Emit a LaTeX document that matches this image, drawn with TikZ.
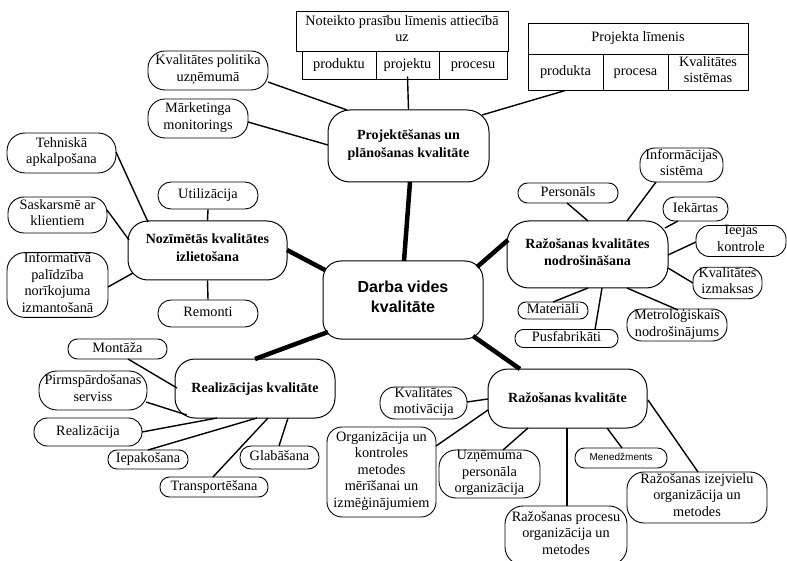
\documentclass[tikz,border=0pt]{standalone}
\usepackage{fontspec}
\setmainfont{Liberation Serif}
\newfontfamily\sansf{Liberation Sans}
\usetikzlibrary{calc}
\tikzset{
  every node/.style={inner sep=0pt, align=center, font=\fontsize{14.3}{16.6}\selectfont,
    execute at begin node=\strut, execute at end node=\strut},
  leaf/.style n args={3}{draw, line width=0.9pt, rounded corners=#3pt, minimum width=#1pt, minimum height=#2pt},
  hub/.style n args={2}{draw, line width=1pt, rounded corners=20pt, minimum width=#1pt, minimum height=#2pt,
    font=\fontsize{14}{17.5}\selectfont\bfseries},
  cell/.style n args={2}{draw, line width=0.9pt, minimum width=#1pt, minimum height=#2pt},
  link/.style={line width=1.4pt},
  trunk/.style={line width=4.5pt},
}
\begin{document}
\begin{tikzpicture}[x=1pt,y=-1pt]
\useasboundingbox (0,0) rectangle (787,561);

% --- tables at the top
\node[cell={212}{40}] (t1h) at (402,31) {Noteikto prasību līmenis attiecībā\\uz};
\node[cell={74}{28}] (t1a) at (339,65) {produktu};
\node[cell={63}{28}] (t1b) at (407.5,65) {projektu};
\node[cell={68}{28}] (t1c) at (473,65) {procesu};

\node[cell={220}{31}] (t2h) at (638,38.5) {Projekta līmenis};
\node[cell={75}{36}] (t2a) at (565.5,72) {produkta};
\node[cell={65}{36}] (t2b) at (635.5,72) {procesa};
\node[cell={80}{36}] (t2c) at (708,72) {Kvalitātes\\sistēmas};

% --- main groups
\node[hub={161}{72}, rounded corners=22pt] (P) at (408.5,146) {Projektēšanas un\\plānošanas kvalitāte};
\node[hub={160}{78}, rounded corners=18pt, font=\sansf\bfseries\fontsize{16}{20}\selectfont] (D) at (403,300) {Darba vides\\kvalitāte};
\node[hub={159}{59}] (N) at (207.5,250.5) {Nozīmētās kvalitātes\\izlietošana};
\node[hub={161}{67}, rounded corners=22pt] (R) at (587.5,254.5) {Ražošanas kvalitātes\\nodrošināšana};
\node[hub={160}{59}] (Q) at (255,388.5) {Realizācijas kvalitāte};
\node[hub={159}{59}] (K) at (567.5,398.5) {Ražošanas kvalitāte};

% --- leaves of the planning group
\node[leaf={120}{39}{17}] (kp) at (208,70.5) {Kvalitātes politika\\uzņēmumā};
\node[leaf={100}{39}{17}] (mm) at (198,118.5) {Mārketinga\\monitorings};

% --- leaves of the usage group
\node[leaf={109}{40}{18}] (ta) at (61.5,153) {Tehniskā\\apkalpošana};
\node[leaf={99}{36}{16}] (sk) at (57.5,215) {Saskarsmē ar\\klientiem};
\node[leaf={101}{64}{18}] (ip) at (57.5,285) {Informatīvā\\palīdzība\\norīkojuma\\izmantošanā};
\node[leaf={100}{27}{13}] (ut) at (208,195.5) {Utilizācija};
\node[leaf={100}{27}{13}] (re) at (208,313.5) {Remonti};

% --- leaves of the production assurance group
\node[leaf={100}{20}{9.5}] (pe) at (568,193) {Personāls};
\node[leaf={83}{34}{15}] (is) at (681.5,165) {Informācijas\\sistēma};
\node[leaf={65}{24}{11.5}] (ie) at (695.5,209) {Iekārtas};
\node[leaf={90}{28}{13.5}] (ik) at (741,241) {Ieejas\\kontrole};
\node[leaf={69}{28}{13.5}] (km) at (727.5,283) {Kvalitātes\\izmaksas};
\node[leaf={70}{17}{8}] (ma) at (553,310.5) {Materiāli};
\node[leaf={103}{18}{8.5}] (pu) at (566.5,338.5) {Pusfabrikāti};
\node[leaf={100}{30}{14.5}] (me) at (677,325) {Metroloģiskais\\nodrošinājums};

% --- leaves of the sales group
\node[leaf={99}{20}{9.5}] (mo) at (117.5,349) {Montāža};
\node[leaf={108}{39}{18}] (ps) at (93,390.5) {Pirmspārdošanas\\serviss};
\node[leaf={108}{28}{13.5}] (rl) at (88,432) {Realizācija};
\node[leaf={80}{19}{9}] (ia) at (148,459.5) {Iepakošana};
\node[leaf={79}{23}{11}] (gl) at (279.5,457.5) {Glabāšana};
\node[leaf={108}{20}{9.5}] (tr) at (214,487) {Transportēšana};

% --- leaves of the production group
\node[leaf={87}{32}{15}] (mv) at (423.5,403) {Kvalitātes\\motivācija};
\node[leaf={109}{90}{15}] (ok) at (381.5,472) {Organizācija un\\kontroles\\metodes\\mērīšanai un\\izmēģinājumiem};
\node[leaf={101}{48}{17}] (up) at (489.5,474) {Uzņēmuma\\personāla\\organizācija};
\node[leaf={122}{59}{18}] (rp) at (566,535.5) {Ražošanas procesu\\organizācija un\\metodes};
\node[leaf={92}{20}{9.5}, font=\sansf\fontsize{10}{12}\selectfont] (mn) at (621,458) {Menedžments};
\node[leaf={140}{51}{17}] (ri) at (697,497.5) {Ražošanas izejvielu\\organizācija un\\metodes};

% --- trunks from the centre
\draw[trunk] ($(P)+(1.5,36)$) -- ($(D)+(1,-39)$);
\draw[trunk] ($(N)+(79.5,-0.5)$) -- ($(D)+(-78,-30)$);
\draw[trunk] ($(D)+(74,-33)$) -- ($(R)+(-79.5,-14.5)$);
\draw[trunk] ($(D)+(-75,32)$) -- ($(Q)+(0,-29.5)$);
\draw[trunk] ($(D)+(70,36)$) -- ($(K)+(-47.5,-29.5)$);

% --- planning group links
\draw[link] ($(t1b.south)+(0,-3)$) -- (P.north);
\draw[link] (t2a.south) -- ($(P)+(73.5,-31)$);
\draw[link] ($(kp)+(60,11.5)$) -- ($(P)+(-61.5,-36)$);
\draw[link] ($(mm)+(50,3.5)$) -- ($(P)+(-80.5,-1)$);

% --- usage group links
\draw[link] ($(ta)+(54.5,-1)$) -- ($(N)+(-59.5,-28.5)$);
\draw[link] ($(sk)+(49.5,-5)$) -- ($(N)+(-78.5,-10.5)$);
\draw[link] ($(ip)+(50.5,2)$) -- ($(N)+(-74.5,22.5)$);
\draw[link] (ut.south) -- (N.north);
\draw[link] (N.south) -- (re.north);

% --- production assurance links
\draw[link] ($(pe)+(-1,10)$) -- ($(R)+(0.5,-33.5)$);
\draw[link] ($(is)+(-25.5,17)$) -- ($(R)+(39.5,-33.5)$);
\draw[link] ($(ie)+(-17.5,12)$) -- ($(R)+(77.5,-26.5)$);
\draw[link] ($(ik)+(-45,1)$) -- ($(R)+(80.5,0.5)$);
\draw[link] ($(km)+(-34.5,0)$) -- ($(R)+(80.5,13.5)$);
\draw[link] ($(ma)+(0,-8.5)$) -- ($(R)+(0.5,33.5)$);
\draw[link] ($(pu)+(28.5,-9)$) -- ($(R)+(14.5,33.5)$);
\draw[link] ($(me)+(1,-15)$) -- ($(R)+(39.5,33.5)$);

% --- sales group links
\draw[link] ($(mo)+(10.5,10)$) -- ($(Q)+(-78,-0.5)$);
\draw[link] ($(ps)+(53,11.5)$) -- ($(Q)+(-68,26.5)$);
\draw[link] ($(rl)+(54,0)$) -- ($(Q)+(-38,29.5)$);
\draw[link] ($(ia)+(0,-9.5)$) -- ($(Q)+(2,29.5)$);
\draw[link] ($(gl)+(-0.5,-11.5)$) -- ($(Q)+(33,29.5)$);
\draw[link] ($(tr)+(-1,-10)$) -- ($(Q)+(13,29.5)$);

% --- production group links
\draw[link] ($(mv)+(43.5,-1)$) -- ($(K)+(-79.5,0.5)$);
\draw[link] ($(ok)+(54.5,-26)$) -- ($(K)+(-79.5,11.5)$);
\draw[link] ($(up)+(13.5,-24)$) -- ($(K)+(-39.5,29.5)$);
\draw[link] ($(rp)+(1,-29.5)$) -- ($(K)+(-0.5,29.5)$);
\draw[link] ($(mn)+(1,-10)$) -- ($(K)+(39.5,29.5)$);
\draw[link] ($(ri)+(1,-25.5)$) -- ($(K)+(80.5,1.5)$);
\end{tikzpicture}
\end{document}
